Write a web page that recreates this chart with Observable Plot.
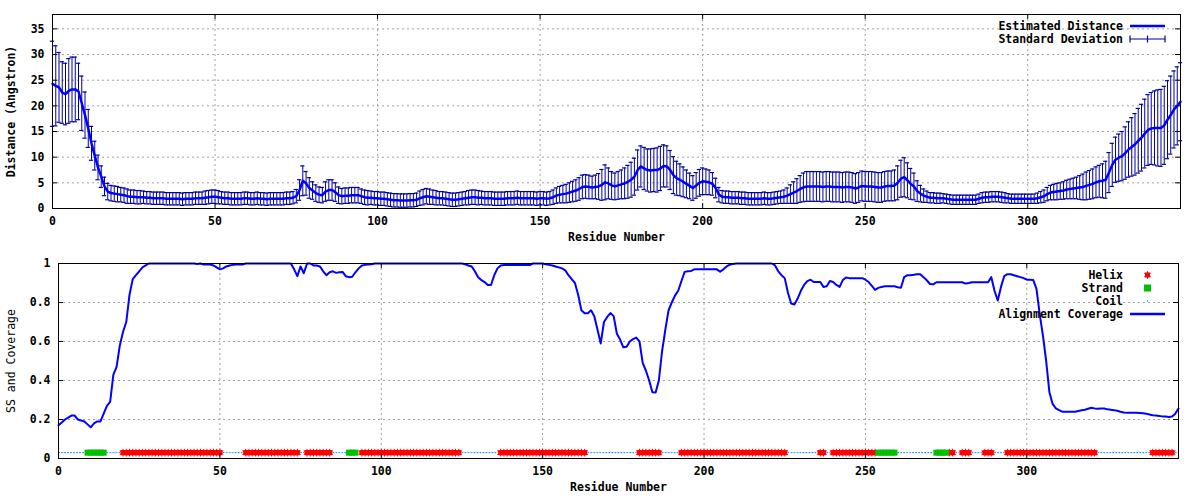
<!DOCTYPE html>
<html><head><meta charset="utf-8">
<script src="https://cdn.jsdelivr.net/npm/d3@7"></script>
<script src="https://cdn.jsdelivr.net/npm/@observablehq/plot@0.6"></script>
<style>body{margin:0;background:#fff} svg{display:block}</style>
</head><body><div id="chart"></div><script>
// ---------- data ----------
const residue = d3.range(0, 348);
const distance = [
24.3,23.9,23.6,22.6,22.3,22.9,23.2,23.2,22.8,20.5,
18.2,15.6,12.7,10.3,8.0,6.2,4.3,3.3,3.0,2.9,
2.8,2.7,2.6,2.4,2.3,2.3,2.2,2.2,2.2,2.1,
2.1,2.0,2.0,2.0,2.0,1.9,1.9,1.9,1.9,1.9,
1.8,1.9,1.9,1.9,2.0,2.0,2.0,2.1,2.2,2.3,
2.3,2.2,2.1,2.0,2.0,1.9,1.9,1.9,1.9,2.0,
2.0,1.9,1.9,2.0,1.9,1.9,1.8,1.9,1.9,1.9,
1.9,1.9,2.0,2.0,2.1,2.4,3.6,5.4,4.9,4.0,
3.5,3.0,2.7,2.6,3.3,3.6,3.6,3.2,2.6,2.4,
2.5,2.5,2.6,2.6,2.6,2.4,2.2,2.1,2.1,2.0,
2.0,1.9,1.9,1.8,1.7,1.6,1.6,1.55,1.55,1.55,
1.6,1.6,1.7,2.0,2.2,2.4,2.3,2.2,2.1,2.0,
2.0,1.9,1.8,1.7,1.7,1.8,1.9,2.0,2.1,2.2,
2.2,2.1,2.1,2.0,2.0,2.0,1.9,1.9,1.9,1.9,
2.0,2.0,2.0,2.1,2.0,2.0,2.0,2.0,2.0,1.9,
2.0,2.0,1.9,2.0,2.2,2.5,2.7,2.8,2.9,3.1,
3.3,3.5,3.8,4.2,4.3,4.2,4.1,4.2,4.3,4.6,
5.1,4.9,4.5,4.3,4.5,4.7,4.9,5.2,5.6,6.2,
7.5,8.2,7.8,7.5,7.4,7.5,7.5,7.8,8.3,8.2,
7.5,6.5,5.9,5.6,5.2,4.8,4.4,4.0,4.5,5.0,
5.3,5.2,5.1,4.8,4.0,2.7,2.3,2.2,2.2,2.1,
2.1,2.1,2.0,2.0,1.9,1.9,1.9,1.9,1.9,2.0,
1.9,1.9,2.0,2.1,2.2,2.3,2.5,2.8,3.1,3.4,
3.8,4.1,4.3,4.3,4.3,4.3,4.3,4.2,4.3,4.3,
4.2,4.2,4.2,4.1,4.2,4.2,4.1,3.9,4.1,4.4,
4.3,4.3,4.3,4.2,4.1,4.1,4.3,4.4,4.4,4.5,
5.0,5.8,6.1,5.5,4.8,4.3,3.4,2.9,2.5,2.3,
2.1,2.1,2.0,2.0,2.0,1.9,1.8,1.7,1.7,1.7,
1.7,1.7,1.7,1.7,1.7,1.9,2.1,2.2,2.2,2.3,
2.3,2.3,2.2,2.1,2.0,1.9,1.9,1.9,1.9,1.9,
1.9,1.9,1.9,2.0,2.2,2.4,2.8,3.1,3.2,3.3,
3.4,3.5,3.7,3.8,3.9,4.0,4.1,4.2,4.4,4.6,
4.8,5.1,5.3,5.4,5.6,7.0,8.5,9.5,9.9,10.2,
10.8,11.5,12.0,12.5,13.2,13.8,14.6,15.3,15.6,15.7,
15.7,15.7,16.2,17.3,18.2,19.3,20.0,20.8];
const stdDev = [
8.3,7.8,6.8,6.0,6.0,6.3,6.3,6.3,5.5,5.3,
4.5,3.7,3.3,2.8,2.4,2.1,1.8,1.6,1.5,1.5,
1.5,1.4,1.4,1.4,1.3,1.3,1.3,1.3,1.2,1.2,
1.2,1.2,1.2,1.2,1.2,1.2,1.2,1.2,1.2,1.2,
1.2,1.2,1.2,1.2,1.2,1.2,1.2,1.3,1.3,1.3,
1.3,1.3,1.2,1.2,1.2,1.2,1.2,1.2,1.2,1.2,
1.2,1.2,1.2,1.2,1.2,1.2,1.2,1.2,1.2,1.2,
1.2,1.2,1.2,1.2,1.2,1.3,2.0,2.9,2.3,2.0,
1.7,1.6,1.5,1.5,1.9,2.0,2.0,1.8,1.6,1.5,
1.5,1.5,1.5,1.5,1.5,1.4,1.4,1.4,1.3,1.3,
1.3,1.3,1.3,1.3,1.3,1.3,1.3,1.3,1.3,1.3,
1.3,1.3,1.3,1.4,1.5,1.5,1.5,1.4,1.4,1.3,
1.3,1.3,1.3,1.3,1.3,1.3,1.3,1.3,1.4,1.4,
1.4,1.4,1.3,1.3,1.3,1.3,1.3,1.3,1.3,1.3,
1.3,1.3,1.3,1.3,1.3,1.3,1.3,1.3,1.3,1.3,
1.3,1.3,1.3,1.3,1.4,1.5,1.6,1.7,1.8,1.9,
2.0,2.1,2.2,2.3,2.3,2.3,2.2,2.3,2.5,3.0,
3.4,3.0,2.7,2.6,2.7,2.8,3.0,3.2,3.4,3.6,
3.9,4.0,4.1,4.1,4.2,4.2,4.3,4.3,4.1,4.0,
3.8,3.6,3.3,3.1,2.9,2.7,2.5,2.4,2.5,2.6,
2.6,2.5,2.4,2.2,1.9,1.4,1.2,1.2,1.2,1.2,
1.2,1.2,1.2,1.2,1.2,1.2,1.2,1.2,1.2,1.2,
1.2,1.2,1.2,1.2,1.2,1.3,1.5,1.8,2.1,2.4,
2.6,2.8,2.9,2.9,2.9,2.9,2.9,2.9,2.9,2.9,
2.9,2.9,2.9,2.9,2.9,2.9,2.9,2.9,2.9,2.9,
2.9,2.9,2.9,2.9,2.9,2.9,2.9,2.9,2.9,3.0,
3.3,3.6,3.8,3.4,3.0,2.6,2.0,1.6,1.3,1.1,
1.0,1.0,1.0,1.0,0.9,0.9,0.9,0.9,0.9,0.9,
0.9,0.9,0.9,0.9,0.9,0.9,1.0,1.0,1.0,1.0,
1.0,1.0,1.0,1.0,0.9,0.9,0.9,0.9,0.9,0.9,
0.9,0.9,0.9,1.0,1.1,1.2,1.3,1.4,1.5,1.6,
1.6,1.7,1.8,1.9,2.0,2.1,2.3,2.5,2.7,2.8,
2.9,3.0,3.1,3.3,3.6,3.9,4.2,4.4,4.6,4.8,
5.1,5.4,5.7,6.0,6.3,6.5,6.7,6.9,7.0,7.2,
7.4,7.5,7.6,7.6,7.6,7.5,7.6,7.6];
const coverage = [
0.17,0.185,0.20,0.21,0.22,0.22,0.20,0.195,0.19,0.175,
0.16,0.18,0.19,0.19,0.23,0.27,0.29,0.43,0.47,0.58,
0.65,0.70,0.84,0.92,0.94,0.96,0.98,0.99,1,1,
1,1,1,1,1,1,1,1,1,1,
1,1,1,0.997,1,0.995,0.995,0.995,0.99,0.98,
0.97,0.975,0.985,0.99,0.993,0.995,0.995,0.995,1,1,
1,1,1,1,1,1,1,1,1,1,
1,1,1,0.97,0.935,0.985,0.95,1,1,0.99,
0.99,0.985,0.96,0.94,0.955,0.96,0.952,0.955,0.957,0.935,
0.93,0.932,0.955,0.975,0.99,0.993,0.995,0.996,1,1,
1,1,1,1,1,1,1,1,1,1,
1,1,1,1,1,1,1,1,1,1,
1,1,1,1,1,1,0.996,0.99,0.985,0.96,
0.93,0.915,0.905,0.89,0.89,0.94,0.975,0.99,0.992,0.992,
0.992,0.992,0.992,0.992,0.992,0.992,0.992,1,1,1,
1,0.996,0.993,0.99,0.985,0.98,0.975,0.965,0.94,0.92,
0.90,0.84,0.76,0.745,0.745,0.76,0.73,0.66,0.59,0.70,
0.726,0.746,0.73,0.64,0.61,0.57,0.573,0.60,0.612,0.62,
0.60,0.49,0.45,0.40,0.34,0.338,0.40,0.55,0.66,0.76,
0.80,0.835,0.86,0.91,0.957,0.96,0.962,0.97,0.97,0.97,
0.97,0.97,0.97,0.97,0.97,0.958,0.97,0.985,0.994,0.998,
1,1,1,1,1,1,1,1,1,1,
1,1,0.99,0.96,0.94,0.925,0.85,0.795,0.79,0.82,
0.86,0.89,0.91,0.917,0.905,0.905,0.905,0.88,0.883,0.91,
0.905,0.89,0.88,0.915,0.928,0.925,0.925,0.925,0.925,0.925,
0.917,0.905,0.885,0.865,0.875,0.88,0.883,0.883,0.883,0.883,
0.878,0.876,0.93,0.94,0.94,0.942,0.945,0.945,0.93,0.914,
0.895,0.893,0.904,0.904,0.904,0.904,0.904,0.904,0.904,0.904,
0.904,0.897,0.90,0.904,0.904,0.904,0.904,0.904,0.904,0.93,
0.86,0.81,0.88,0.935,0.945,0.945,0.94,0.935,0.93,0.925,
0.917,0.917,0.915,0.87,0.74,0.63,0.50,0.34,0.28,0.257,
0.248,0.24,0.24,0.24,0.24,0.24,0.244,0.247,0.25,0.255,
0.26,0.257,0.255,0.256,0.256,0.252,0.25,0.248,0.245,0.24,
0.236,0.234,0.234,0.234,0.234,0.233,0.232,0.23,0.226,0.222,
0.22,0.218,0.216,0.215,0.213,0.215,0.23,0.256];
const helixRanges = [[20,50],[58,74],[77,84],[94,124],[137,163],[180,186],[193,225],[236,237],[240,253],[276,277],[280,282],[287,289],[294,321],[339,345]];
const strandRanges = [[9,14],[90,92],[254,259],[272,275]];
const ssLevel = 0.03;
const xTicks = [0,50,100,150,200,250,300];
const distTicks = [0,5,10,15,20,25,30,35];
const covTicks = [0,0.2,0.4,0.6,0.8,1];
const xDomain = [0, 347];
const distDomain = [0, 37.8];
const covDomain = [0, 1];

// ---------- derived tables ----------
const inRanges = (r, ranges) => ranges.some(([a, b]) => r >= a && r <= b);
const distRows = residue.map((r, i) => ({r, d: distance[i], sd: stdDev[i]}));
const covRows = residue.map((r, i) => ({
  r, c: coverage[i],
  ss: inRanges(r, strandRanges) ? "strand" : inRanges(r, helixRanges) ? "helix" : "coil"
}));

const MONO = "'DejaVu Sans Mono', monospace";
const gridStyle = {stroke: "#a0a0a0", strokeOpacity: 1, strokeDasharray: "2,3"};
const fmt = d => String(d);
const capHalf = 0.65;

function frameTicks(xt, yt, W, H) {
  return [
    Plot.tickX(xt, {x: d => d, stroke: "black", insetTop: H - 5}),
    Plot.tickX(xt, {x: d => d, stroke: "black", insetBottom: H - 5}),
    Plot.tickY(yt, {y: d => d, stroke: "black", insetRight: W - 5}),
    Plot.tickY(yt, {y: d => d, stroke: "black", insetLeft: W - 5})
  ];
}

// ---------- top panel ----------
const T = {ml: 52, mr: 20, mt: 14, mb: 42, h: 250};
const topW = 1200 - T.ml - T.mr, topH = T.h - T.mt - T.mb;
const topChart = Plot.plot({
  width: 1200, height: T.h,
  marginLeft: T.ml, marginRight: T.mr, marginTop: T.mt, marginBottom: T.mb,
  x: {domain: xDomain},
  y: {domain: distDomain},
  style: {fontFamily: MONO, fontSize: "11.5px", fontWeight: "bold", color: "#000", background: "#fff", overflow: "visible"},
  marks: [
    Plot.gridX(xTicks, gridStyle),
    Plot.gridY(distTicks, gridStyle),
    Plot.ruleX(distRows, {x: "r", y1: d => d.d - d.sd, y2: d => d.d + d.sd, stroke: "#00009c", strokeWidth: 1}),
    Plot.ruleY(distRows, {y: d => d.d + d.sd, x1: d => d.r - capHalf, x2: d => d.r + capHalf, stroke: "#00009c", strokeWidth: 1.2}),
    Plot.ruleY(distRows, {y: d => d.d - d.sd, x1: d => d.r - capHalf, x2: d => d.r + capHalf, stroke: "#00009c", strokeWidth: 1.2}),
    Plot.line(distRows, {x: "r", y: "d", stroke: "#0000ff", strokeWidth: 2.5}),
    ...frameTicks(xTicks, distTicks, topW, topH),
    Plot.axisX(xTicks, {tickSize: 0, tickPadding: 8.5, label: null, tickFormat: fmt}),
    Plot.axisY(distTicks, {tickSize: 0, tickPadding: 8, label: null, tickFormat: fmt}),
    Plot.text(["Residue Number"], {frameAnchor: "bottom", dy: 32}),
    Plot.text(["Distance (Angstron)"], {frameAnchor: "left", dx: -41, rotate: -90, textAnchor: "middle"}),
    Plot.frame({stroke: "black", strokeWidth: 1})
  ]
});

// ---------- bottom panel ----------
const B = {ml: 58, mr: 22, mt: 13, mb: 42, h: 250};
const botW = 1200 - B.ml - B.mr, botH = B.h - B.mt - B.mb;
const botChart = Plot.plot({
  width: 1200, height: B.h,
  marginLeft: B.ml, marginRight: B.mr, marginTop: B.mt, marginBottom: B.mb,
  x: {domain: xDomain},
  y: {domain: covDomain},
  style: {fontFamily: MONO, fontSize: "11.5px", fontWeight: "bold", color: "#000", background: "#fff", overflow: "visible"},
  marks: [
    Plot.gridX(xTicks, gridStyle),
    Plot.gridY(covTicks, gridStyle),
    Plot.line(covRows, {x: "r", y: d => d.ss === "coil" ? ssLevel : NaN, stroke: "#0080ff", strokeWidth: 1, strokeDasharray: "1,2"}),
    Plot.dot(covRows.filter(d => d.ss === "helix"), {x: "r", y: () => ssLevel, symbol: "square", fill: "#ff0000", r: 2.9}),
    Plot.dot(covRows.filter(d => d.ss === "helix"), {x: "r", y: () => ssLevel, symbol: "asterisk", stroke: "#ff0000", strokeWidth: 1, r: 3.6}),
    Plot.dot(covRows.filter(d => d.ss === "strand"), {x: "r", y: () => ssLevel, symbol: "square", fill: "#00c000", r: 3.4}),
    Plot.line(covRows, {x: "r", y: "c", stroke: "#0000ff", strokeWidth: 2}),
    ...frameTicks(xTicks, covTicks, botW, botH),
    Plot.axisX(xTicks, {tickSize: 0, tickPadding: 8.5, label: null, tickFormat: fmt}),
    Plot.axisY(covTicks, {tickSize: 0, tickPadding: 8, label: null, tickFormat: fmt}),
    Plot.text(["Residue Number"], {frameAnchor: "bottom", dy: 32}),
    Plot.text(["SS and Coverage"], {frameAnchor: "left", dx: -47, rotate: -90, textAnchor: "middle", fontWeight: "normal"}),
    Plot.frame({stroke: "black", strokeWidth: 1})
  ]
});

// ---------- legends (gnuplot style, inside top-right) ----------
function legend(svgNode, items, textRight, symX, x1, x2) {
  const g = d3.select(svgNode).append("g")
    .attr("font-family", MONO).attr("font-size", "11.5px").attr("font-weight", "bold");
  for (const it of items) {
    g.append("text").attr("x", textRight).attr("y", it.y).attr("dy", "0.35em")
      .attr("text-anchor", "end").attr("fill", "#000").text(it.label);
    if (it.kind === "line") {
      g.append("line").attr("x1", x1).attr("x2", x2).attr("y1", it.y).attr("y2", it.y)
        .attr("stroke", it.color).attr("stroke-width", 2.5);
    } else if (it.kind === "errorbar") {
      g.append("line").attr("x1", x1).attr("x2", x2).attr("y1", it.y).attr("y2", it.y)
        .attr("stroke", it.color).attr("stroke-width", 1.2);
      for (const xx of [x1, symX, x2]) {
        g.append("line").attr("x1", xx).attr("x2", xx).attr("y1", it.y - 3.5).attr("y2", it.y + 3.5)
          .attr("stroke", it.color).attr("stroke-width", 1.2);
      }
    } else if (it.kind === "helix") {
      g.append("rect").attr("x", symX - 2.5).attr("y", it.y - 2.5).attr("width", 5).attr("height", 5).attr("fill", it.color);
      g.append("path").attr("d", d3.symbol(d3.symbolAsterisk, 40)()).attr("transform", `translate(${symX},${it.y})`)
        .attr("stroke", it.color).attr("fill", "none");
    } else if (it.kind === "square") {
      g.append("rect").attr("x", symX - 3.5).attr("y", it.y - 3.5).attr("width", 7).attr("height", 7).attr("fill", it.color);
    } else if (it.kind === "dot") {
      g.append("rect").attr("x", symX - 0.5).attr("y", it.y - 0.5).attr("width", 1.2).attr("height", 1.2).attr("fill", it.color);
    }
  }
}
legend(topChart, [
  {label: "Estimated Distance", y: 26, kind: "line", color: "#0000ff"},
  {label: "Standard Deviation", y: 39, kind: "errorbar", color: "#00009c"}
], 1123, 1147.5, 1130, 1165);
legend(botChart, [
  {label: "Helix", y: 25, kind: "helix", color: "#ff0000"},
  {label: "Strand", y: 38, kind: "square", color: "#00c000"},
  {label: "Coil", y: 51, kind: "dot", color: "#0080ff"},
  {label: "Alignment Coverage", y: 64, kind: "line", color: "#0000ff"}
], 1123, 1147.5, 1130, 1165);

const host = document.getElementById("chart");
host.appendChild(topChart);
host.appendChild(botChart);
</script></body></html>
